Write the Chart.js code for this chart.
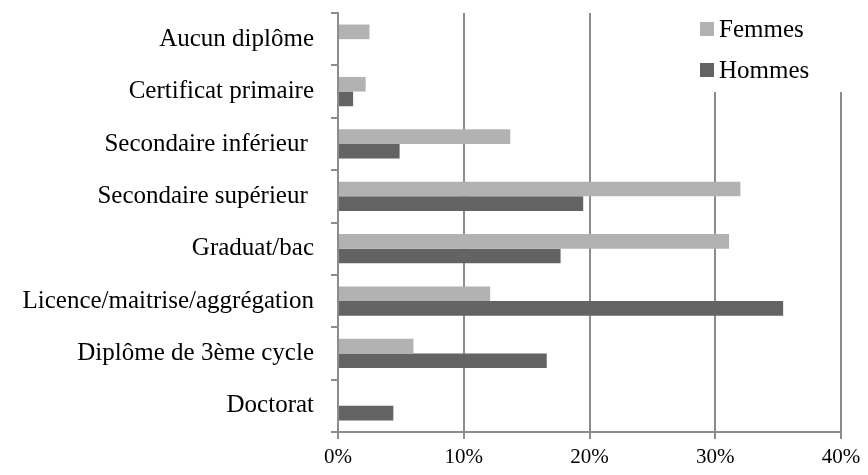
<!DOCTYPE html>
<html>
<head>
<meta charset="utf-8">
<script src="https://cdn.jsdelivr.net/npm/chart.js@4/dist/chart.umd.min.js"></script>
<style>
  html, body { margin: 0; padding: 0; background: #fff; }
  #wrap { width: 868px; height: 475px; }
</style>
</head>
<body>
<div id="wrap"><canvas id="chart"></canvas></div>
<script>
// données (en %)
const categories = [
    'Aucun diplôme',
    'Certificat primaire',
    'Secondaire inférieur ',
    'Secondaire supérieur ',
    'Graduat/bac',
    'Licence/maitrise/aggrégation',
    'Diplôme de 3ème cycle',
    'Doctorat'
];
const femmes = [2.5, 2.2, 13.7, 32.0, 31.1, 12.1, 6.0, 0];
const hommes = [0, 1.2, 4.9, 19.5, 17.7, 35.4, 16.6, 4.4];
const xTicks = [0, 10, 20, 30, 40];

const serif = '"Liberation Serif", "DejaVu Serif", serif';
const axisGrey = '#8c8c8c';

// légende dessinée dans le coin haut-droit, sur fond blanc
const cornerLegend = {
    id: 'cornerLegend',
    afterDraw(chart) {
        const ctx = chart.ctx;
        ctx.save();
        ctx.fillStyle = '#fff';
        ctx.fillRect(690, 0, 178, 92);
        ctx.font = '25px ' + serif;
        ctx.textBaseline = 'middle';
        chart.data.datasets.forEach((ds, i) => {
            const y = 29 + i * 41;
            ctx.fillStyle = ds.backgroundColor;
            ctx.fillRect(700, y - 7, 14, 14);
            ctx.fillStyle = '#000';
            ctx.fillText(ds.label, 719, y + 1);
        });
        ctx.restore();
    }
};

new Chart(document.getElementById('chart'), {
    type: 'bar',
    data: {
        labels: categories,
        datasets: [
            { label: 'Femmes', data: femmes, backgroundColor: '#b2b2b2' },
            { label: 'Hommes', data: hommes, backgroundColor: '#636363' }
        ]
    },
    options: {
        indexAxis: 'y',
        responsive: true,
        maintainAspectRatio: false,
        animation: false,
        layout: { padding: { top: 13, right: 27, left: 0, bottom: 0 } },
        datasets: {
            bar: { categoryPercentage: 0.56, barPercentage: 1.0 }
        },
        scales: {
            x: {
                min: 0,
                max: 40,
                afterBuildTicks: (scale) => {
                    scale.ticks = xTicks.map(v => ({ value: v }));
                },
                afterFit: (scale) => {
                    scale.height = 43;
                    scale.paddingLeft = 0;
                    scale.paddingRight = 0;
                },
                grid: {
                    color: axisGrey,
                    lineWidth: 2,
                    tickLength: 7,
                    drawOnChartArea: true
                },
                border: { color: axisGrey, width: 2 },
                ticks: {
                    color: '#000',
                    font: { family: serif, size: 21 },
                    padding: 6,
                    callback: (v) => v + '%'
                }
            },
            y: {
                afterFit: (scale) => {
                    scale.width = 338;
                    scale.paddingTop = 0;
                    scale.paddingBottom = 0;
                },
                grid: {
                    drawOnChartArea: false,
                    color: axisGrey,
                    lineWidth: 2,
                    tickLength: 7,
                    offset: true
                },
                border: { color: axisGrey, width: 2 },
                ticks: {
                    color: '#000',
                    font: { family: serif, size: 25 },
                    padding: 17
                }
            }
        },
        plugins: {
            legend: { display: false },
            tooltip: { enabled: false }
        }
    },
    plugins: [cornerLegend]
});
</script>
</body>
</html>
